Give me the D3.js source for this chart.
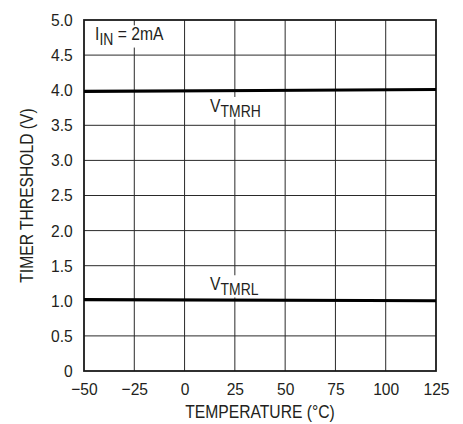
<!DOCTYPE html>
<html>
<head>
<meta charset="utf-8">
<script src="https://cdn.jsdelivr.net/npm/d3@7"></script>
<style>
  body { margin: 0; background: #fff; }
  text { font-family: "Liberation Sans", Arial, sans-serif; fill: #231f20; }
</style>
</head>
<body>
<div id="chart"></div>
<script>
// data
const xTicks = [-50, -25, 0, 25, 50, 75, 100, 125];
const yTicks = [0, 0.5, 1.0, 1.5, 2.0, 2.5, 3.0, 3.5, 4.0, 4.5, 5.0];
const tempPts = [-50, 125];
const vtmrh = [3.98, 4.01];
const vtmrl = [1.02, 1.00];

const svgWidth = 463;
const svgHeight = 424;
const margin = { top: 20, right: 27, bottom: 53, left: 84 };
const width = svgWidth - margin.left - margin.right;
const height = svgHeight - margin.top - margin.bottom;

// the original font is a condensed sans, so squeeze text a bit
const squeeze = 0.87;

const svg = d3.select("#chart")
  .append("svg")
  .attr("width", svgWidth)
  .attr("height", svgHeight);

const chartGroup = svg.append("g")
  .attr("transform", `translate(${margin.left}, ${margin.top})`);

const x = d3.scaleLinear().domain([-50, 125]).range([0, width]);
const y = d3.scaleLinear().domain([0, 5]).range([height, 0]);

// grid
chartGroup.selectAll(".vgrid")
  .data(xTicks.slice(1, -1))
  .enter().append("line")
  .attr("x1", d => x(d)).attr("x2", d => x(d))
  .attr("y1", 0).attr("y2", height)
  .attr("stroke", "#2a2a2a").attr("stroke-width", 1);

chartGroup.selectAll(".hgrid")
  .data(yTicks.slice(1, -1))
  .enter().append("line")
  .attr("x1", 0).attr("x2", width)
  .attr("y1", d => y(d)).attr("y2", d => y(d))
  .attr("stroke", "#2a2a2a").attr("stroke-width", 1);

chartGroup.append("rect")
  .attr("width", width).attr("height", height)
  .attr("fill", "none").attr("stroke", "#1a1a1a").attr("stroke-width", 1.8);

// axes (labels only)
const bottomAxis = d3.axisBottom(x).tickValues(xTicks).tickSize(0).tickPadding(12)
  .tickFormat(d => d < 0 ? "\u2212" + Math.abs(d) : d);
const leftAxis = d3.axisLeft(y).tickValues(yTicks).tickSize(0).tickPadding(12.3)
  .tickFormat(d => d === 0 ? "0" : d3.format(".1f")(d));

chartGroup.append("g")
  .attr("transform", `translate(0, ${height})`)
  .call(bottomAxis)
  .call(g => g.select(".domain").remove())
  .selectAll("text")
  .attr("font-size", "17px")
  .attr("fill", "#231f20")
  .attr("transform", "scale(0.92,1)");

chartGroup.append("g")
  .call(leftAxis)
  .call(g => g.select(".domain").remove())
  .selectAll("text")
  .attr("font-size", "17px")
  .attr("fill", "#231f20")
  .attr("transform", "scale(0.92,1)");

// data lines
const line = d3.line()
  .x((d, i) => x(tempPts[i]))
  .y(d => y(d));

[vtmrh, vtmrl].forEach(s => {
  chartGroup.append("path")
    .datum(s)
    .attr("d", line)
    .attr("fill", "none")
    .attr("stroke", "#000")
    .attr("stroke-width", 3);
});

// labels, with a white box knocking out the grid behind them
function subLabel(px, py, main, sub, extra) {
  const g = chartGroup.append("g")
    .attr("transform", `translate(${px}, ${py}) scale(${squeeze},1)`);
  const bg = g.append("rect").attr("fill", "#fff");
  const t = g.append("text").attr("font-size", "18px");
  t.append("tspan").text(main);
  t.append("tspan").attr("dy", 5).attr("font-size", "16px").text(sub);
  if (extra) t.append("tspan").attr("dy", -5).text(extra);
  const b = t.node().getBBox();
  bg.attr("x", b.x - 2).attr("y", b.y + 1)
    .attr("width", b.width + 4).attr("height", b.height - 2);
}
subLabel(x(-44.5), y(4.71), "I", "IN", " = 2mA");
subLabel(x(12.7), y(3.69), "V", "TMRH");
subLabel(x(12.7), y(1.15), "V", "TMRL");

// axis titles
svg.append("text")
  .attr("transform", `translate(${margin.left + width / 2}, ${svgHeight - 6}) scale(${squeeze},1)`)
  .attr("text-anchor", "middle")
  .attr("font-size", "18px")
  .text("TEMPERATURE (\u00B0C)");

svg.append("text")
  .attr("transform", `translate(33, ${margin.top + height / 2}) rotate(-90) scale(${squeeze},1)`)
  .attr("text-anchor", "middle")
  .attr("font-size", "18px")
  .text("TIMER THRESHOLD (V)");
</script>
</body>
</html>
